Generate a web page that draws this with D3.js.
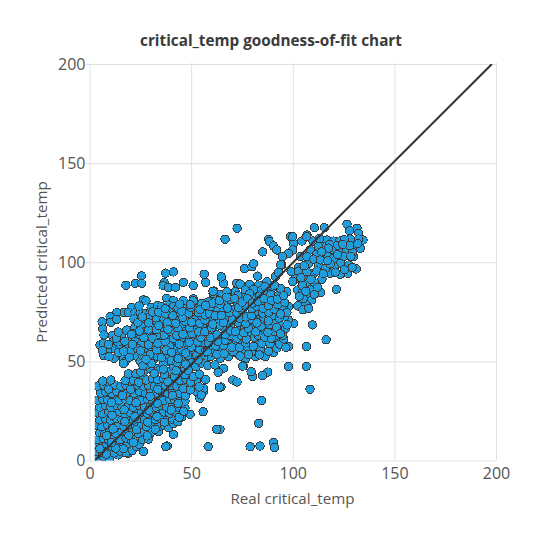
<!DOCTYPE html>
<html>
<head>
<meta charset="utf-8">
<script src="https://cdn.jsdelivr.net/npm/d3@7"></script>
<style>
html, body { margin: 0; padding: 0; background: #fff; }
text { font-family: "Open Sans", sans-serif; }
</style>
</head>
<body>
<svg id="chart" width="540" height="540"></svg>
<script>
let titleText = 'critical_temp goodness-of-fit chart';
let xLabel = 'Real critical_temp';
let yLabel = 'Predicted critical_temp';
let tickValues = [0, 50, 100, 150, 200];

//diagonal reference line
let lineReal = [2.6, 198];
let linePredicted = [0, 200];

//[real, predicted] pairs
//bottom left block, below y=50
let lowPoints = [
[4,1],[7,2],[10,.8],[14.2,2.8],[19.1,3.6],
[3.6,4.5],[6.5,4],[9,5],[12,3.8],[15,4.8],[18,3.9],[21,5],[26.5,4.5],
[3.5,8],[6,7],[8.5,8.4],[11,7.2],[14,8],[16.5,7],[19,8.6],[23.2,7],[24.5,8.2],
[4,10.5],[7,11],[9.5,10.2],[12.5,11.3],[15,10.5],[18,11.4],[20.5,10.3],[23,11.2],[26,10.6],[29,10.8],
[5,14],[7.5,13.5],[10,14.6],[13,13.8],[16,14.7],[18.5,13.6],[21,14.5],[24,13.7],[27,14.4],[30,13.8],[33.9,14.5],
[3.8,17.5],[6,17],[9,18],[11.5,17.2],[14.5,18.1],[17,17.1],[20,18],[22.5,17.3],[25.5,18],[28,17.2],[31,18],[34,17.1],[37,17.6],[41.3,13.2],[39,16.5],[41.3,18.7],
[5,20.5],[8,21],[10.5,20.4],[13,21.3],[16,20.6],[18.5,21.2],[21.5,20.4],[24,21.2],[27,20.5],[29.5,21.3],[32.5,20.6],[35,21.2],[38,20.4],[41,20.9],[43.5,19.5],
[4,24],[6.5,23.6],[9.5,24.4],[12,23.7],[15,24.5],[17.5,23.6],[20,24.3],[23,23.7],[25.5,24.5],[28.5,23.8],[31,24.4],[34,23.7],[36.5,24.5],[39.5,23.8],[42.5,24.3],[45.4,22],[49.5,23.3],[55.9,24.6],
[5,27],[8,27.6],[10.5,26.9],[13.5,27.7],[16,27],[19,27.6],[21.5,26.9],[24.5,27.7],[27,27],[30,27.6],[32.5,26.9],[35.5,27.7],[38,27],[41,27.6],[44,26.9],[47,26.3],
[4,30.5],[6.5,31],[9,30.3],[12,31.1],[14.5,30.4],[17.5,31],[20,30.3],[23,31.1],[25.5,30.4],[28.5,31],[31,30.3],[34,31.1],[36.5,30.4],[39.5,31],[42,30.3],[45,31],[47,30],[54.3,31.4],
[5.5,34],[8,34.6],[11,33.9],[13.5,34.7],[16.5,34],[19,34.6],[22,33.9],[24.5,34.7],[27.5,34],[30,34.6],[33,33.9],[35.5,34.7],[38.5,34],[41,34.6],[44,33.9],[47.8,34.7],[52.7,34.7],[56.1,34.7],
[4,37.5],[7,38],[10,37.4],[12.5,38.1],[15.5,37.5],[18,38],[21,37.4],[23.5,38.1],[26.5,37.5],[29,38],[32,37.4],[34.5,38.1],[37.5,37.5],[40,38],[43,37.4],[45.5,38],[48.5,37.5],[51,38],[56.1,36.4],[55,33],
[6.5,40.1],[10.4,40.6],[17.5,40.3],[21.6,40.3],[26.5,42.3],[28,40.6],[31,41.4],[33.5,40.7],[36.5,41.3],[39,40.6],[42,41.2],[44.5,40.5],[47.5,41],[52.7,39.7],[57.1,40.9]
];

//second pass over the same block, filling between the first ones
let lowFill = [
[8.3,3.2],[16.7,5.9],[5.1,6],[13,6.1],[21.6,9],[10.8,9],[19.4,12.6],[8.4,12.5],[28.4,12.4],
[11.6,15.9],[23,15.6],[32.3,15.8],[17.4,19.6],[28.7,19.3],[36.9,19.3],
[11.1,22.8],[22.4,22.1],[33.2,22.2],[44.1,21.8],[17,25.6],[29.2,25.3],[40.2,25.5],[46.3,24.9],
[10.9,29.3],[22.9,29.1],[33.4,28.9],[43.6,28.8],[16.2,32.7],[29.8,32.4],[40.8,32.9],[47.2,32.6],
[9.4,36],[20.3,35.9],[33.6,35.9],[46.1,36.3],[49.6,35.6],[24.2,39.5],[38.6,39.7],[49.8,39.6],[53.9,37.1]
];

//band above it, y=40 up to about 85
let midPoints = [
//left part, x below 52
[26.5,81],[27.8,80.5],[38,81.8],[41.3,80.6],[46.2,80.6],[51.1,81.5],[51.1,80.6],
[20.8,77.3],[16.7,74.6],[19.1,74.6],[22.4,74.7],[24.9,74.7],[27.8,74.2],[29.8,74.2],[30.3,77.3],[33.5,78.1],[35.5,77.6],[38.8,78.4],[41.3,77.6],[39.3,75],[35.5,74.2],[42.9,74.2],[47.8,76.8],[52.7,76.8],[50.3,74.6],[44.5,73.4],[13.4,74.6],[10.1,72.6],[10.4,69.7],[13.4,71.2],[6.2,70],[6.5,66.3],[7.1,63.3],[11.2,63],
[18.3,65.8],[22.4,67.2],[21.9,71.4],[27.3,70.5],[32.2,69.2],[36.3,67.2],[40.4,68.4],[43.7,70.5],[48.6,71.7],[26.5,67.5],[27.3,65],[31.4,65.8],[35.5,65],[41.3,64.2],[47,65.8],[51,67.5],[15.8,62.5],[20,60.8],[22.4,64.2],[24.8,61.1],[28.5,60.8],[34.7,60],[39.6,60.8],[46.2,58.3],[51.1,60.8],
[5.2,58.3],[6.8,59],[11.7,60],[11.4,56.6],[15,57.4],[18.3,57.4],[22.4,60],[27.3,55.8],[30.6,56.6],[35.5,54.9],[42,55.8],[48.6,55.8],[52.7,57.4],[7.1,52.9],[12.1,51.6],[16.7,51.6],[17.5,49.9],[16.7,49],[22.9,52.7],[24.9,49.9],[31.4,50.7],[38,49.9],[33,46.5],[39.3,44.8],[44.5,47.4],[49.5,49.9],[19.1,43.7],[22.9,43.7],[27.3,45.7],[29.8,46.5],[34.7,45.7],[43.7,44],[47,43.2],
[29.6,72.3],[32.8,71.9],[36.7,71.4],[40.1,71.9],[45.9,68.9],[47.6,73.4],[52.1,71.2],[30,67.4],[33.7,63.6],[37.9,62.9],[38.2,69.4],[43.6,66.2],[45.3,61.8],[48.9,63.4],[52.4,63.6],[25.6,58.4],[29.2,63.6],[32,58.1],[36.6,57.2],[39.2,57.9],[42.9,60.1],[44.4,53.1],[50.7,53.4],[46.7,51.2],[41.2,52.2],[38.1,53.6],[33.4,52.6],[29.7,53.4],[25.9,53.1],[20.2,55.1],[8.9,55.7],[14.2,54.4],[13.9,59.8],[28.1,48.2],[36.2,48.3],[41.2,47.4],[46.8,46.6],[31.8,43.9],[36.9,43.4],[41.8,42.2],
//right part, x above 52
[76.3,96.9],[79.9,97.7],[80.7,99.2],[56.4,94],[57.2,89.8],[64.8,92.7],[65.9,89.3],[72.4,89.4],[74.1,89],[78.7,88.8],[82.7,93],[83.2,88.5],[87.3,90.2],[91.4,92.7],[94.6,98.6],[61.3,85.5],[64.3,83.8],[67.6,85.1],[71.7,85.1],[76.6,86],[80.7,86.2],[84.8,86],[89.7,86.8],[97.1,85.1],[97.9,77.6],[100.4,69.2],[97.9,70.9],[93,61.6],[90.5,54.4],[86.4,52.4],[81.5,52.4],[76.6,51],[75.8,47.7],[72.5,54],[68.4,52.4],[64.3,51.5],[59.4,52.4],[56.1,51.5],[52.8,53.2],[58.6,80.1],[55.3,79.3],[52,75.9],
[54.2,56.1],[56.9,54.7],[55.3,59.4],[53.6,63],[57.2,62.7],[59.8,57.3],[61.4,54.3],[61,64.9],[63.7,56.2],[64.9,61.8],[66.4,66.3],[67.3,55.6],[68.3,58.9],[70.6,62.4],[72.1,58.8],[73.9,65.7],[75.2,60.1],[75.1,55.2],[77.8,57.4],[79.3,63.2],[80.7,68.6],[79.6,54.6],[82.4,59.7],[84.1,55.9],[85.6,64.3],[87.2,60.5],[88.9,67.8],[90.3,57.6],[91.8,63.1],[93.4,68.9],[94.7,65.2],[95.9,72.4],[92.6,75.7],[89.4,72.1],[86.7,76.3],[83.9,71.6],[81.2,74.8],[78.5,70.3],[75.8,73.9],[73.2,69.7],[70.4,76.2],[67.7,72.5],[65.3,75.8],[62.6,70.2],[60.1,74.6],[57.5,68.4],[55.1,72.9],[53.4,66.6],[58.8,65.1],[61.7,60.4],[55.8,67.2],[59,71.2],[64.2,68.1],[69.2,68.2],[71.6,72.4],[76.4,66.9],[82.9,66.2],[86,69.1],[91.2,70],[96.3,66.4],[94.7,80.4],
[62.4,77.2],[57.3,75.8],[66.1,79.4],[69.4,81.2],[72.8,79.6],[75.6,82.1],[78.4,78.7],[81.3,81.4],[84.2,78.4],[87.4,81.1],[90.6,79.6],[92.9,83.2],[95.2,77.4],[62.6,81.2],[73,83.3],[78.8,84.1],[83.7,82.9],[87.6,84.6],[93.9,86.8],[91,88.4],[86.4,87.6],[89.2,83.6],[60.8,84.2]
];

//more of the same band, between the points above
let midFill = [
[25.2,44.6],[36.4,46.1],[42.6,45.3],[48.7,45.4],[51.2,42.4],[54.1,43.6],[30.4,48.9],[26.3,47.8],[40.2,50.3],[43.1,49.6],[47.3,48.6],[52.4,47.3],[55.2,49.1],[58.2,47.9],
[9.6,52.4],[19.6,52.1],[27.8,51.1],[35.3,51.9],[43.6,51.4],[48.3,53.1],[53.6,50.6],[57.9,54.8],[62.7,53.6],[66.2,53.9],[70.6,54.9],[74.1,52.7],[78.3,53.4],[83.6,53.3],[88.1,55.2],[92.2,56.7],
[6.4,55.6],[16.9,55.2],[23.7,56.4],[25.1,55.3],[29,58.3],[33.1,55.8],[37.7,55.7],[40.4,54.6],[45.1,56],[47.4,54.2],[50.1,57.2],[53.3,59.8],[58.6,59.2],[62.2,57.8],[65.9,57.9],[70.1,57.2],[73.8,56.9],[76.9,59.3],[80.6,57.6],[84.9,59.1],[88.8,58.9],[93.6,58.7],[95.6,61.3],
[9.4,58.6],[13.2,61.7],[17.4,60.1],[21.2,58.6],[26.8,61.9],[31.2,61.7],[33.7,59.1],[37.2,60.2],[41.3,61.4],[44.2,58.7],[49,59.6],[50.4,63.9],[54.8,62.1],[59.6,61.9],[63.1,60.1],[66.8,60.7],[68.9,62.9],[72.6,61.6],[74.6,63.1],[77.2,61.2],[81.2,61.9],[83.1,63.1],[86.3,62.2],[89.4,61.7],[90.8,65.1],[95.1,63.1],
[14.2,64.8],[20.7,63.7],[24.6,65.3],[29.1,65.9],[32.9,66.1],[36.8,63.2],[39.6,65.3],[42.9,63.2],[46,63.6],[49.3,66.9],[53.7,64.9],[56.7,64.9],[60,66.9],[62.8,63.4],[66.9,63.6],[69.4,65.4],[71.8,65.1],[75.9,64.4],[78.1,66.7],[81.8,64.9],[84.4,67.6],[87.8,64.6],[91.9,67.1],[93.9,63.9],[97.2,68.4],
[23.8,69.6],[29.1,69.4],[34.1,68.1],[38.6,66.1],[42.4,69.2],[46.9,70.3],[50.3,69.8],[54.2,69.2],[56.8,70.9],[60.7,68.8],[63.9,71.4],[66,69.6],[70.3,70.9],[74.1,71.8],[76.9,69.1],[80.1,71.2],[82.4,69.4],[85.6,72.4],[88,70.4],[90.6,73.4],[93.4,71.9],[97.1,74.6],
[25.9,72.4],[31,74.9],[34.1,74.8],[37.6,73.9],[41,73.1],[45.9,72.1],[48.8,74.4],[53.6,74.6],[56.9,73.4],[58.9,74.1],[61.8,73],[64.9,73.1],[68.9,74.7],[72.6,74.4],[74.4,76.4],[77.2,72.4],[79.8,73.1],[83,75.2],[85.1,74.4],[88.2,74.9],[91,76.4],[94,73.9],
[24.4,77.9],[37.2,76.6],[43.6,76.9],[45.4,75.4],[49.9,77.2],[54.4,76.2],[59.7,77.6],[60.6,79.4],[64.2,78.9],[67.9,76.9],[73.4,77.2],[76.6,78.4],[79.9,76.6],[82.6,77.6],[85.4,76.8],[88.1,78.2],[92.6,78.7],[96,79.8],
[44.4,78.9],[49.6,78.6],[57,78.2],[63.9,80.6],[67.6,82.4],[71.4,81.6],[75.1,79.9],[77.6,81.6],[80.1,79.4],[82.9,80.4],[85.9,81.6],[89.6,80.8],[92.4,81.4],[95.6,83.2]
];

//upper right cluster
let highPoints = [
[126.7,119.1],[131.6,117.1],[128,115.9],[132.4,114.6],[134.6,111.2],[132.4,111.7],[128.3,111.7],[110.6,117.4],[115.5,117.4],[107,113.7],[104.5,110.7],[98.8,112.9],[100.4,109.5],[110,110.7],[114.7,110.7],[116.8,111.2],[120.1,110.7],[123.1,110.7],[125.4,111.4],
[123.4,106.2],[126.4,106.2],[130,107.8],[133.2,107],[115.2,107.8],[120.1,106.2],[108.6,106.2],[111.6,104],[116.8,103.6],[125,102.8],[130,102.8],[120.1,102],[123.4,99.4],[127.5,98.6],[131.3,96.6],[127,94.4],[123.4,93.9],[118.5,94.4],[114.4,91.5],[110.3,94.4],[107,95.2],[102.9,97.4],[112.7,98.6],[107.8,99.4],[103.7,102.8],[107,102.8],[102.1,91.9],[106.2,91],[107.8,89.4],[102.4,86],[108.6,86],[113.6,84.8],[121.4,86.3],[107.8,82.6],[109.4,81],[103.7,79.3],[106.2,78.8],[101.3,92.7],[100,90.3],[99.2,95.3],[102.8,95.5],
[102.5,78],[105,76],[107.8,76.8],[104.6,84.4],[110.8,89.6],[104.8,88.2],[116.2,96.8],[120.4,97.6],[110.2,101.6],[113.6,101.2],[118.4,99.2],[129.4,105],[127.9,108.4],[122.2,108.6],[118,108.9],[112.6,108],[100,106.2],[97.9,104.5],[100,112.9],[106.9,112.9],
[113.2,112],[117.6,107.1],[124.6,109],[128.6,103],[132,109.4],[105.6,98.2],[104,92.2],[109,91.4],[111.9,95.6],[115,94.2],[121,95],[125.4,96.2],[129.2,97.4],[117.2,100.8],[122,103.8],[114.2,105.2],[105.1,81.6],[103.2,82.8],[110.6,83.8],[106.4,85.4],[112.2,87.4]
];

//sparse points away from the main cloud
let outlierPoints = [
[66.7,111.6],[72.6,117.1],[25.6,93.1],[17.9,88.4],[22.6,89.4],[25.7,89.4],[37.4,94.5],[41.3,95.1],[36.7,89.8],[36.2,88.2],[38.9,87.2],[42.3,87.4],[46.2,89.9],[51,88.2],[64.8,92.6],[60.8,85.4],
[85.2,105.2],[88.2,111.6],[88.5,110.4],[90.5,108.2],[92.1,106.2],[94.9,102.9],[94.1,98.7],[93,94.8],
[109.7,68.4],[116.4,60.9],[106.7,57.5],[97.9,57.5],[96.6,57],
[97.9,47.5],[106.7,47.5],[87.7,44.6],[85.1,42.8],[80.3,42.3],[79.5,44.8],[75.4,47.6],[65.9,46.5],[63.3,44.5],[61.7,48.2],[70.5,40.6],[72.6,39.6],[64.7,37.1],[63.8,37],[108.5,35.9],[84.7,30.3],[83.3,18.8],[79,7],[83.9,7.3],[90.5,9.2],[91.1,6.5],[64.2,15.7],[62.6,15.7],[38.3,7.3],[37.6,7],[58.4,7]
];

let points = lowPoints.concat(lowFill, midPoints, midFill, highPoints, outlierPoints);

let margin = {left: 89.5, top: 64, right: 44, bottom: 79.5};
let plotWidth = 540 - margin.left - margin.right;
let plotHeight = 540 - margin.top - margin.bottom;

let scaleX = d3.scaleLinear().domain([0, 200]).range([0, plotWidth]);
let scaleY = d3.scaleLinear().domain([0, 200]).range([plotHeight, 0]);

let svg = d3.select('#chart');
let plot = svg.append('g').attr('transform', `translate(${margin.left},${margin.top})`);

//title and axis names
svg.append('text').attr('x', 271).attr('y', 46)
    .attr('text-anchor', 'middle').attr('font-size', 15.3).attr('font-weight', 700)
    .attr('fill', '#3b3b3b').text(titleText);
svg.append('text').attr('x', 292.5).attr('y', 504)
    .attr('text-anchor', 'middle').attr('font-size', 15.2)
    .attr('fill', '#555').text(xLabel);
svg.append('text').attr('transform', 'translate(47,262) rotate(-90)')
    .attr('text-anchor', 'middle').attr('font-size', 15.2)
    .attr('fill', '#555').text(yLabel);

//axes with grid lines
let axisX = plot.append('g').attr('transform', `translate(0,${plotHeight})`)
    .call(d3.axisBottom(scaleX).tickValues(tickValues).tickSizeInner(-plotHeight - 1).tickSizeOuter(0).tickPadding(7));
let axisY = plot.append('g')
    .call(d3.axisLeft(scaleY).tickValues(tickValues).tickSizeInner(-plotWidth).tickSizeOuter(0).tickPadding(4));
[axisX, axisY].forEach(a => {
    a.select('.domain').remove();
    a.selectAll('line').attr('stroke', '#e0e0e0').attr('stroke-width', 1);
    a.selectAll('text').attr('font-size', 16).attr('fill', '#555').style('font-family', '"Open Sans", sans-serif');
});
//small tick stubs left of the y axis
axisY.selectAll('line').attr('x1', -4);
axisX.selectAll('line').attr('y1', 0);

//points and line stop at the same clip box
let clipLeft = scaleX(lineReal[0]);
svg.append('defs').append('clipPath').attr('id', 'plotClip').append('rect')
    .attr('x', clipLeft).attr('y', 0)
    .attr('width', plotWidth - clipLeft).attr('height', plotHeight);

let marks = plot.append('g').attr('clip-path', 'url(#plotClip)');

//crisp edges give the blocky circles of the original
marks.selectAll('circle')
    .data(points)
    .join('circle')
    .attr('cx', d => scaleX(d[0]))
    .attr('cy', d => scaleY(d[1]))
    .attr('r', 4.2)
    .attr('fill', '#209ddd')
    .attr('stroke', '#3a3a3a')
    .attr('stroke-width', 1)
    .attr('shape-rendering', 'crispEdges');

let diagonal = d3.line().x(d => scaleX(d[0])).y(d => scaleY(d[1]));
marks.append('path')
    .datum(d3.zip(lineReal, linePredicted))
    .attr('d', diagonal)
    .attr('fill', 'none')
    .attr('stroke', '#333')
    .attr('stroke-width', 2);
</script>
</body>
</html>
